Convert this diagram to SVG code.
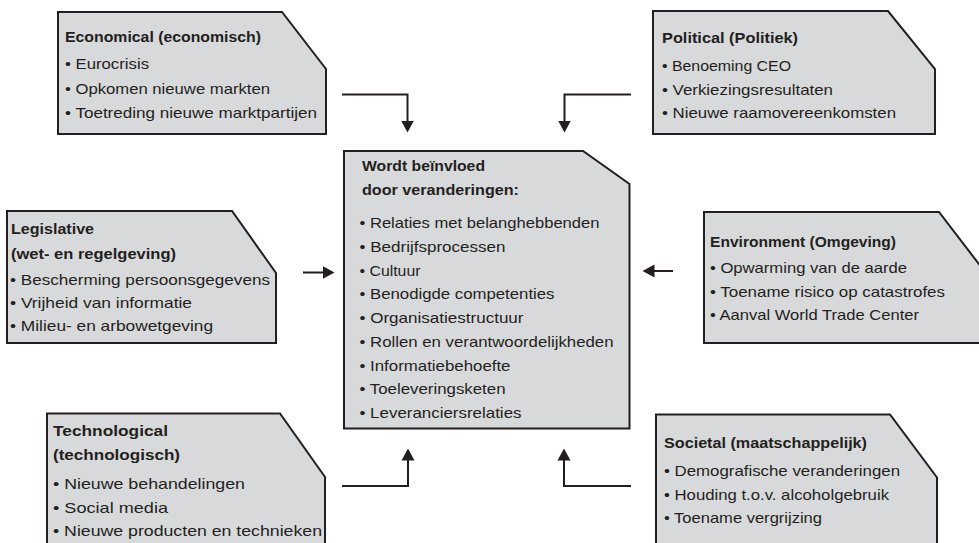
<svg xmlns="http://www.w3.org/2000/svg" width="979" height="543" viewBox="0 0 979 543">
  <style>
    .box { fill: #d8d9db; stroke: #231f20; stroke-width: 2; stroke-linejoin: miter; }
    .conn { fill: none; stroke: #231f20; stroke-width: 2; }
    text { font-family: "Liberation Sans", Arial, sans-serif; font-size: 15px; fill: #231f20; }
    .hd { font-weight: bold; }
  </style>
  <defs>
    <marker id="arrow" viewBox="0 -7 13 14" refX="0.5" refY="0" markerWidth="13" markerHeight="14" markerUnits="userSpaceOnUse" orient="auto">
      <path d="M0,-6.5 L12,0 L0,6.5 Z" fill="#231f20"/>
    </marker>
  </defs>
  <rect width="979" height="543" fill="#ffffff"/>

  <!-- connectors -->
  <g id="connectors">
    <path class="conn" d="M342,94.5 H407.5 V121" marker-end="url(#arrow)"/>
    <path class="conn" d="M631,94.5 H564.5 V121" marker-end="url(#arrow)"/>
    <path class="conn" d="M303,272.5 H323" marker-end="url(#arrow)"/>
    <path class="conn" d="M673,271 H654" marker-end="url(#arrow)"/>
    <path class="conn" d="M342,486 H408 V460" marker-end="url(#arrow)"/>
    <path class="conn" d="M631,486 H564 V460" marker-end="url(#arrow)"/>
  </g>

  <g id="economical">
    <path class="box" d="M58,12 H282 L326,69 V134 H58 Z"/>
    <text class="hd" x="65" y="42" textLength="196" lengthAdjust="spacingAndGlyphs">Economical (economisch)</text>
    <text x="65" y="69" textLength="84" lengthAdjust="spacingAndGlyphs">• Eurocrisis</text>
    <text x="65" y="93.5" textLength="205" lengthAdjust="spacingAndGlyphs">• Opkomen nieuwe markten</text>
    <text x="65" y="117.5" textLength="252" lengthAdjust="spacingAndGlyphs">• Toetreding nieuwe marktpartijen</text>
  </g>

  <g id="political">
    <path class="box" d="M653,11 H888 L935,69 V134 H653 Z"/>
    <text class="hd" x="662" y="43" textLength="136" lengthAdjust="spacingAndGlyphs">Political (Politiek)</text>
    <text x="662" y="70.5" textLength="129" lengthAdjust="spacingAndGlyphs">• Benoeming CEO</text>
    <text x="662" y="94.5" textLength="171" lengthAdjust="spacingAndGlyphs">• Verkiezingsresultaten</text>
    <text x="662" y="118" textLength="234" lengthAdjust="spacingAndGlyphs">• Nieuwe raamovereenkomsten</text>
  </g>

  <g id="legislative">
    <path class="box" d="M7,211 H232 L276,273 V343 H7 Z"/>
    <text class="hd" x="11" y="234" textLength="83" lengthAdjust="spacingAndGlyphs">Legislative</text>
    <text class="hd" x="11" y="258.5" textLength="165" lengthAdjust="spacingAndGlyphs">(wet- en regelgeving)</text>
    <text x="10" y="285" textLength="260" lengthAdjust="spacingAndGlyphs">• Bescherming persoonsgegevens</text>
    <text x="10" y="308" textLength="182" lengthAdjust="spacingAndGlyphs">• Vrijheid van informatie</text>
    <text x="10" y="331" textLength="203" lengthAdjust="spacingAndGlyphs">• Milieu- en arbowetgeving</text>
  </g>

  <g id="center">
    <path class="box" d="M344,151 H583 L629.5,184 V428.5 H344 Z"/>
    <text class="hd" x="362" y="170.5" textLength="123" lengthAdjust="spacingAndGlyphs">Wordt beïnvloed</text>
    <text class="hd" x="362" y="195" textLength="157" lengthAdjust="spacingAndGlyphs">door veranderingen:</text>
    <text x="359.5" y="228" textLength="240" lengthAdjust="spacingAndGlyphs">• Relaties met belanghebbenden</text>
    <text x="359.5" y="251.75" textLength="146" lengthAdjust="spacingAndGlyphs">• Bedrijfsprocessen</text>
    <text x="359.5" y="275.5" textLength="61" lengthAdjust="spacingAndGlyphs">• Cultuur</text>
    <text x="359.5" y="299.25" textLength="195" lengthAdjust="spacingAndGlyphs">• Benodigde competenties</text>
    <text x="359.5" y="323" textLength="164" lengthAdjust="spacingAndGlyphs">• Organisatiestructuur</text>
    <text x="359.5" y="346.75" textLength="254" lengthAdjust="spacingAndGlyphs">• Rollen en verantwoordelijkheden</text>
    <text x="359.5" y="370.5" textLength="151" lengthAdjust="spacingAndGlyphs">• Informatiebehoefte</text>
    <text x="359.5" y="394.25" textLength="146" lengthAdjust="spacingAndGlyphs">• Toeleveringsketen</text>
    <text x="359.5" y="418" textLength="162" lengthAdjust="spacingAndGlyphs">• Leveranciersrelaties</text>
  </g>

  <g id="environment">
    <path class="box" d="M704,212 H939 L985,272 V343 H704 Z"/>
    <text class="hd" x="710" y="246.5" textLength="186" lengthAdjust="spacingAndGlyphs">Environment (Omgeving)</text>
    <text x="710" y="273" textLength="197" lengthAdjust="spacingAndGlyphs">• Opwarming van de aarde</text>
    <text x="710" y="296.5" textLength="235" lengthAdjust="spacingAndGlyphs">• Toename risico op catastrofes</text>
    <text x="710" y="320" textLength="209" lengthAdjust="spacingAndGlyphs">• Aanval World Trade Center</text>
  </g>

  <g id="technological">
    <path class="box" d="M47,413.5 H280 L325,477 V560 H47 Z"/>
    <text class="hd" x="53" y="436" textLength="115" lengthAdjust="spacingAndGlyphs">Technological</text>
    <text class="hd" x="53" y="459.5" textLength="127" lengthAdjust="spacingAndGlyphs">(technologisch)</text>
    <text x="53" y="489" textLength="192" lengthAdjust="spacingAndGlyphs">• Nieuwe behandelingen</text>
    <text x="53" y="512.5" textLength="115" lengthAdjust="spacingAndGlyphs">• Social media</text>
    <text x="53" y="536" textLength="269" lengthAdjust="spacingAndGlyphs">• Nieuwe producten en technieken</text>
  </g>

  <g id="societal">
    <path class="box" d="M656,414.5 H890 L937,477.5 V560 H656 Z"/>
    <text class="hd" x="664" y="448" textLength="203" lengthAdjust="spacingAndGlyphs">Societal (maatschappelijk)</text>
    <text x="664" y="476" textLength="236" lengthAdjust="spacingAndGlyphs">• Demografische veranderingen</text>
    <text x="664" y="499.5" textLength="225" lengthAdjust="spacingAndGlyphs">• Houding t.o.v. alcoholgebruik</text>
    <text x="664" y="523" textLength="158" lengthAdjust="spacingAndGlyphs">• Toename vergrijzing</text>
  </g>
</svg>
